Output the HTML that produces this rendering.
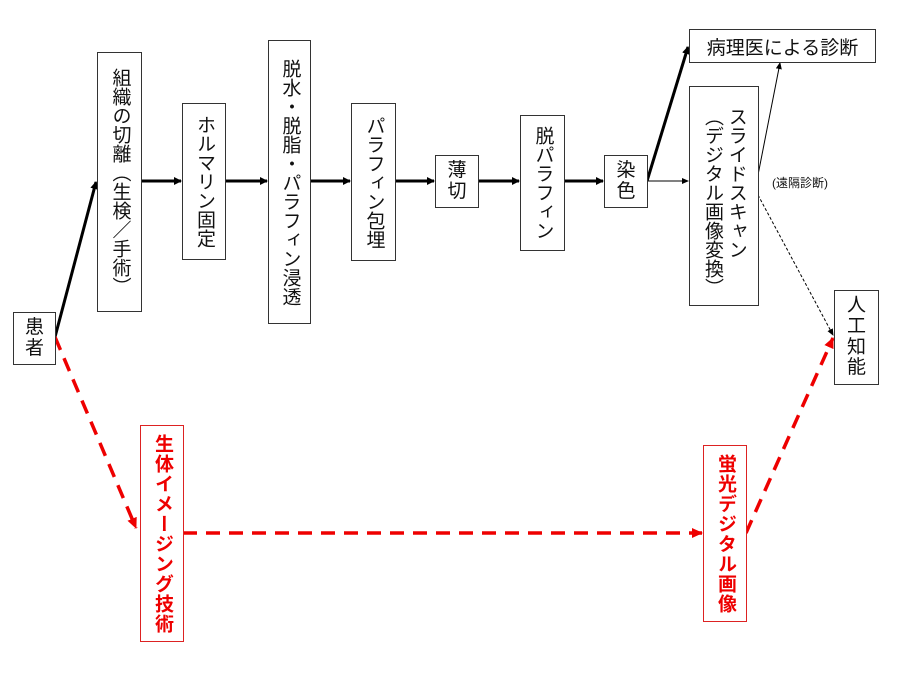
<!DOCTYPE html>
<html><head><meta charset="utf-8"><style>
body{margin:0;width:900px;height:675px;background:#fff;position:relative;overflow:hidden;font-family:"Liberation Sans","Noto Sans CJK JP",sans-serif;}
.b{position:absolute;border:1.5px solid #333;box-sizing:border-box;background:#fff;display:flex;align-items:center;justify-content:center;font-size:19px;color:#111;}
.v{writing-mode:vertical-rl;line-height:1.05;letter-spacing:0px;}
.r{border-color:#d22;color:#e00;font-weight:bold;font-size:19px;}
.r .v{letter-spacing:1px;}
svg{position:absolute;left:0;top:0;}
</style></head><body>
<svg width="900" height="675">
<defs>
<marker id="a" markerWidth="8" markerHeight="8" refX="7" refY="4" orient="auto" markerUnits="userSpaceOnUse"><path d="M0,0 L8,4 L0,8z" fill="#000"/></marker>
<marker id="as" markerWidth="7" markerHeight="6" refX="6" refY="3" orient="auto" markerUnits="userSpaceOnUse"><path d="M0,0 L7,3 L0,6z" fill="#000"/></marker>
<marker id="ar" markerWidth="11" markerHeight="10" refX="10" refY="5" orient="auto" markerUnits="userSpaceOnUse"><path d="M0,0 L11,5 L0,10z" fill="#e00"/></marker>
</defs>
<g stroke="#000" stroke-width="3" marker-end="url(#a)">
<line x1="55" y1="337" x2="96" y2="182"/>
<line x1="141" y1="181" x2="181" y2="181"/>
<line x1="225" y1="181" x2="267" y2="181"/>
<line x1="310" y1="181" x2="350" y2="181"/>
<line x1="395" y1="181" x2="434" y2="181"/>
<line x1="478" y1="181" x2="519" y2="181"/>
<line x1="564" y1="181" x2="603" y2="181"/>
<line x1="647" y1="181" x2="688" y2="47"/>
</g>
<g stroke="#000" stroke-width="1" marker-end="url(#as)">
<line x1="647" y1="181" x2="688" y2="181"/>
<line x1="758" y1="175" x2="780" y2="63"/>
<line x1="758" y1="195" x2="833" y2="335" stroke-dasharray="3,2"/>
</g>
<g stroke="#e00" stroke-width="3.5" stroke-dasharray="14,9" fill="none" marker-end="url(#ar)">
<line x1="55" y1="337" x2="136" y2="528"/>
<line x1="183" y1="533" x2="702" y2="533"/>
<line x1="746" y1="533" x2="833" y2="338"/>
</g>
<text x="772" y="187" font-size="12" font-family="Liberation Sans, Noto Sans CJK JP, sans-serif" fill="#111">(遠隔診断)</text>
</svg>
<div class="b" style="left:13px;top:312px;width:43px;height:53px;"><span style="line-height:1.1;text-align:center">患<br>者</span></div>
<div class="b" style="left:97px;top:52px;width:45px;height:260px;"><span class="v">組織の切離（生検／手術）</span></div>
<div class="b" style="left:182px;top:103px;width:44px;height:157px;"><span class="v">ホルマリン固定</span></div>
<div class="b" style="left:268px;top:40px;width:43px;height:284px;"><span class="v">脱水・脱脂・パラフィン浸透</span></div>
<div class="b" style="left:351px;top:103px;width:45px;height:158px;"><span class="v">パラフィン包埋</span></div>
<div class="b" style="left:435px;top:155px;width:44px;height:53px;"><span style="line-height:1.1;text-align:center">薄<br>切</span></div>
<div class="b" style="left:520px;top:115px;width:45px;height:136px;"><span class="v">脱パラフィン</span></div>
<div class="b" style="left:604px;top:155px;width:44px;height:53px;"><span style="line-height:1.1;text-align:center">染<br>色</span></div>
<div class="b" style="left:689px;top:29px;width:187px;height:34px;">病理医による診断</div>
<div class="b" style="left:689px;top:86px;width:70px;height:220px;align-items:flex-start;padding-top:20px;"><span class="v" style="line-height:1.25">スライドスキャン<br>（デジタル画像変換）</span></div>
<div class="b" style="left:834px;top:290px;width:45px;height:95px;"><span style="line-height:1.1;text-align:center">人<br>工<br>知<br>能</span></div>
<div class="b r" style="left:140px;top:425px;width:44px;height:217px;"><span class="v">生体イメージング技術</span></div>
<div class="b r" style="left:703px;top:445px;width:44px;height:177px;"><span class="v">蛍光デジタル画像</span></div>
</body></html>
